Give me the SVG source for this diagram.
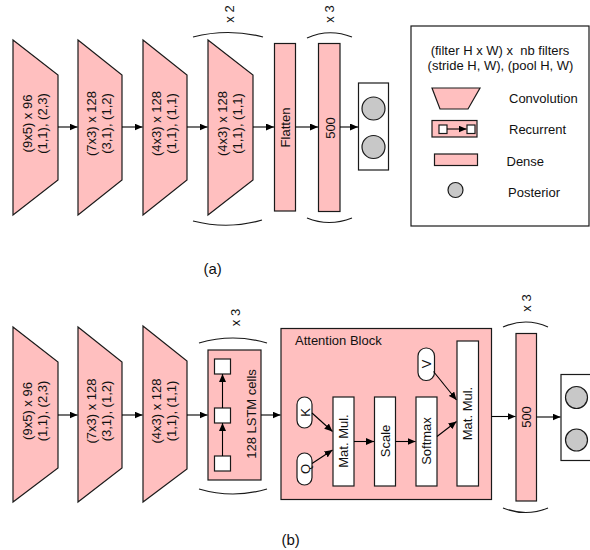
<svg xmlns="http://www.w3.org/2000/svg" width="590" height="550" viewBox="0 0 590 550">
  <defs>
    <marker id="arrow" viewBox="0 0 8 7" refX="8" refY="3.5" markerWidth="8" markerHeight="7" markerUnits="userSpaceOnUse" orient="auto">
      <path d="M0,0 L8,3.5 L0,7 z" fill="#000"/>
    </marker>
    <style>
      .layer { fill: #ffbfbf; stroke: #1a1a1a; stroke-width: 1.2; }
      .plain { fill: #fff; stroke: #1a1a1a; stroke-width: 1.2; }
      .post { fill: #c8c8c8; stroke: #1a1a1a; stroke-width: 1.2; }
      .conn { fill: none; stroke: #000; stroke-width: 1.1; marker-end: url(#arrow); }
      .brace { fill: none; stroke: #1a1a1a; stroke-width: 1.2; }
      text { font-family: "Liberation Sans", Arial, sans-serif; font-size: 13px; fill: #111; }
      .mid { text-anchor: middle; }
      .cap { font-size: 15px; }
    </style>
  </defs>

  <!-- ===== (a) convolutional network ===== -->
  <g id="a-conv1">
    <polygon class="layer" points="13,40 58,75 58,180 13,215"/>
    <g transform="translate(36,123.5) rotate(-90)">
      <text class="mid" y="-4">(9x5) x 96</text>
      <text class="mid" y="11">(1,1), (2,3)</text>
    </g>
  </g>
  <g id="a-conv2">
    <polygon class="layer" points="78,40 122,75 122,180 78,215"/>
    <g transform="translate(100,123.5) rotate(-90)">
      <text class="mid" y="-4">(7x3) x 128</text>
      <text class="mid" y="11">(3,1), (1,2)</text>
    </g>
  </g>
  <g id="a-conv3">
    <polygon class="layer" points="143,40 187,75 187,180 143,215"/>
    <g transform="translate(165,123.5) rotate(-90)">
      <text class="mid" y="-4">(4x3) x 128</text>
      <text class="mid" y="11">(1,1), (1,1)</text>
    </g>
  </g>
  <g id="a-conv4">
    <polygon class="layer" points="208,40 253,75 253,180 208,215"/>
    <g transform="translate(231,123.5) rotate(-90)">
      <text class="mid" y="-4">(4x3) x 128</text>
      <text class="mid" y="11">(1,1), (1,1)</text>
    </g>
    <path class="brace" d="M193,37 Q228,28 263,37"/>
    <path class="brace" d="M193,221 Q228,230 262,220"/>
    <text class="mid" transform="translate(234,14) rotate(-90)">x 2</text>
  </g>
  <g id="a-flatten">
    <rect class="layer" x="274.5" y="43.5" width="21" height="167.5"/>
    <text class="mid" transform="translate(290,127.5) rotate(-90)">Flatten</text>
  </g>
  <g id="a-dense">
    <rect class="layer" x="318.5" y="43.5" width="21.5" height="168"/>
    <text class="mid" transform="translate(334.5,128) rotate(-90)">500</text>
    <path class="brace" d="M307,38 Q329,28 352,37"/>
    <path class="brace" d="M307,218 Q329,227 352,218"/>
    <text class="mid" transform="translate(334,14) rotate(-90)">x 3</text>
  </g>
  <g id="a-posterior">
    <rect class="plain" x="358.5" y="83" width="30" height="87"/>
    <circle class="post" cx="373.5" cy="108.5" r="11.5"/>
    <circle class="post" cx="373.5" cy="147" r="11.5"/>
  </g>

  <g id="a-connectors">
    <line class="conn" x1="58" y1="127" x2="77.5" y2="127"/>
    <line class="conn" x1="122" y1="127" x2="142.5" y2="127"/>
    <line class="conn" x1="187" y1="127" x2="207.5" y2="127"/>
    <line class="conn" x1="253" y1="127" x2="274" y2="127"/>
    <line class="conn" x1="295.5" y1="127" x2="318" y2="127"/>
    <line class="conn" x1="340" y1="127" x2="358" y2="127"/>
  </g>

  <!-- legend -->
  <g id="legend">
    <rect x="411" y="26" width="178" height="200" fill="#fff" stroke="#1a1a1a" stroke-width="1.2"/>
    <text class="mid" x="500" y="55">(filter H x W) x &#160;nb filters</text>
    <text class="mid" x="500.5" y="70">(stride H, W), (pool H, W)</text>
    <polygon class="layer" points="432,88 480,88 468,109 440,109"/>
    <text x="509" y="103">Convolution</text>
    <rect class="layer" x="432" y="120.5" width="45" height="16.5"/>
    <rect class="plain" x="439" y="125" width="8" height="8.5"/>
    <rect class="plain" x="467" y="125" width="8" height="8.5"/>
    <line class="conn" x1="447" y1="129" x2="466.5" y2="129"/>
    <text x="509" y="134">Recurrent</text>
    <rect class="layer" x="434.5" y="154" width="43" height="11.5"/>
    <text x="506.5" y="165.5">Dense</text>
    <circle class="post" cx="455.5" cy="190" r="7.5"/>
    <text x="508" y="196.5">Posterior</text>
  </g>

  <text class="cap" x="203.5" y="273.5">(a)</text>

  <!-- ===== (b) recurrent network with attention ===== -->
  <g id="b-conv1">
    <polygon class="layer" points="13,327 58,362 58,468 13,502"/>
    <g transform="translate(36,411) rotate(-90)">
      <text class="mid" y="-4">(9x5) x 96</text>
      <text class="mid" y="11">(1,1), (2,3)</text>
    </g>
  </g>
  <g id="b-conv2">
    <polygon class="layer" points="78,327 122,362 122,468 78,502"/>
    <g transform="translate(100,411) rotate(-90)">
      <text class="mid" y="-4">(7x3) x 128</text>
      <text class="mid" y="11">(3,1), (1,2)</text>
    </g>
  </g>
  <g id="b-conv3">
    <polygon class="layer" points="143,326 187,361 187,469 143,502"/>
    <g transform="translate(165,411) rotate(-90)">
      <text class="mid" y="-4">(4x3) x 128</text>
      <text class="mid" y="11">(1,1), (1,1)</text>
    </g>
  </g>
  <g id="b-lstm">
    <rect class="layer" x="208" y="350" width="53" height="130"/>
    <rect class="plain" x="214.5" y="359" width="16" height="15"/>
    <rect class="plain" x="214.5" y="408" width="16" height="15"/>
    <rect class="plain" x="214.5" y="456" width="16" height="15"/>
    <line class="conn" x1="222.5" y1="456" x2="222.5" y2="423"/>
    <line class="conn" x1="222.5" y1="408" x2="222.5" y2="374"/>
    <text class="mid" transform="translate(256,414) rotate(-90)">128 LSTM cells</text>
    <path class="brace" d="M199,343 Q233,333 267,343"/>
    <path class="brace" d="M199,489 Q233,499 267,489"/>
    <text class="mid" transform="translate(240,317.5) rotate(-90)">x 3</text>
  </g>

  <g id="b-attention">
    <rect class="layer" x="281" y="328.5" width="210.5" height="171"/>
    <text x="295" y="345">Attention Block</text>
    <g id="b-key">
      <rect class="plain" x="297" y="397" width="15" height="31" rx="7.5"/>
      <text class="mid" transform="translate(309.5,412.5) rotate(-90)">K</text>
    </g>
    <g id="b-query">
      <rect class="plain" x="297" y="453" width="15" height="32" rx="7.5"/>
      <text class="mid" transform="translate(309.5,469) rotate(-90)">Q</text>
    </g>
    <g id="b-value">
      <rect class="plain" x="418" y="348" width="16.5" height="32.5" rx="8"/>
      <text class="mid" transform="translate(431,364) rotate(-90)">V</text>
    </g>
    <g id="b-matmul1">
      <rect class="plain" x="333" y="397" width="21" height="89"/>
      <text class="mid" transform="translate(348,441) rotate(-90)">Mat. Mul.</text>
    </g>
    <g id="b-scale">
      <rect class="plain" x="374.5" y="397" width="21" height="89"/>
      <text class="mid" transform="translate(389.5,441) rotate(-90)">Scale</text>
    </g>
    <g id="b-softmax">
      <rect class="plain" x="416" y="397" width="21" height="89"/>
      <text class="mid" transform="translate(431,441) rotate(-90)">Softmax</text>
    </g>
    <g id="b-matmul2">
      <rect class="plain" x="457" y="341" width="21.5" height="145"/>
      <text class="mid" transform="translate(472,413.5) rotate(-90)">Mat. Mul.</text>
    </g>
  </g>

  <g id="b-dense">
    <rect class="layer" x="516" y="333.5" width="20.5" height="167.5"/>
    <text class="mid" transform="translate(531,417) rotate(-90)">500</text>
    <path class="brace" d="M503,327 Q526,317 548,327"/>
    <path class="brace" d="M503,508 Q526,517 548,508"/>
    <text class="mid" transform="translate(530.5,303) rotate(-90)">x 3</text>
  </g>
  <g id="b-posterior">
    <rect class="plain" x="561" y="374.5" width="40" height="86"/>
    <circle class="post" cx="576.5" cy="397.5" r="11"/>
    <circle class="post" cx="576.5" cy="440" r="11"/>
  </g>

  <g id="b-connectors">
    <line class="conn" x1="58" y1="415" x2="77.5" y2="415"/>
    <line class="conn" x1="122" y1="415" x2="142.5" y2="415"/>
    <line class="conn" x1="187" y1="415" x2="207.5" y2="415"/>
    <line class="conn" x1="261" y1="415" x2="280.5" y2="415"/>
    <line class="conn" x1="312" y1="413" x2="332.5" y2="431.5"/>
    <line class="conn" x1="312" y1="463.5" x2="332.5" y2="450"/>
    <line class="conn" x1="354" y1="441.5" x2="374" y2="441.5"/>
    <line class="conn" x1="395.5" y1="441.5" x2="415.5" y2="441.5"/>
    <line class="conn" x1="437" y1="436.5" x2="456.5" y2="421.5"/>
    <line class="conn" x1="433.5" y1="371.5" x2="456.5" y2="400"/>
    <line class="conn" x1="491.5" y1="416.5" x2="515.5" y2="416.5"/>
    <line class="conn" x1="536.5" y1="417" x2="560.5" y2="417"/>
  </g>

  <text class="cap" x="281.5" y="545">(b)</text>
</svg>
